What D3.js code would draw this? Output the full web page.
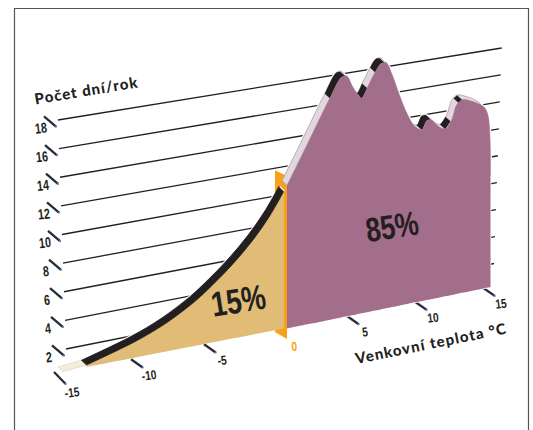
<!DOCTYPE html>
<html><head><meta charset="utf-8">
<script src="https://cdn.jsdelivr.net/npm/d3@7"></script>
<style>html,body{margin:0;padding:0;background:#fff}svg{display:block}</style></head>
<body><svg id="c" width="533" height="430"></svg>
<script>
const dayTicks = [2,4,6,8,10,12,14,16,18];
const tempTicks = [-15,-10,-5,5,10,15];
const tanTemps = [-15,-13.4,-12,-10,-8,-6,-4.8,-3.44,-2.08,-0.95,0];
const tanDays  = [0,0.15,0.57,1.22,2.1,3.33,4.3,5.55,7.04,8.58,10.2];
const purpleTemps = [0,1.5,3.2,4,4.4,4.8,5.1,5.5,5.9,6.4,6.9,7.3,7.75,8.25,8.85,9.45,9.95,10.3,10.6,11.15,11.65,12.15,12.5,12.9,13.5,14.5,14.8,14.95,15];
const purpleDays  = [10.6,13.35,16.5,17.8,17.8,17,16.45,15.95,16.6,17.5,18.2,18.2,17.2,15.7,14.1,13,12.7,13.3,13.3,12.7,12.4,13,14,14.3,14.1,13.45,12.8,11.3,8.3];
const purpleDarkFrom = [3.15,5.3,6.5,9.85,11.6,12.65];
const purpleDarkTo   = [4.3,5.9,7.2,10.6,12.05,12.9];
const wallDays = 11.3;
const shares = ["15%","85%"];

const INK="#231f20", TAN="#e0bc77", TIP="#f6ecdc", PURPLE="#a36e8c", LILAC="#e3d7df", ORANGE="#f9a01b", BLUE="#5f83c9";
const NARROW='"Liberation Sans",Arial,sans-serif';
const TITLE='Lato,"Open Sans",sans-serif';
const svg=d3.select("#c");

const tickX=d3.scaleLinear().domain([-15,-10,-5,0,5,10,15]).range([54,131,204,276,347,415,483]);
const tickY=d3.scaleLinear().domain([-15,-10,-5,0,5,10,15]).range([372,359.3,344.3,330,316,301.7,287.7]);
const xTan=d3.scaleLinear().domain([-15,0]).range([63,284]);
const xPur=d3.scaleLinear().domain([0,15]).range([287,490.5]);
const base=d3.scaleLinear().domain([-15,0,15]).range([371.5,328.5,287]);
const height=d3.scaleLinear().domain([0,18]).range([0,243]);
const gLX=d3.scaleLinear().domain([2,18]).range([66,58]);
const gLY=d3.scaleLinear().domain([2,18]).range([349,120]);
const gRX=d3.scaleLinear().domain([2,18]).range([494,501.7]);
const gRY=d3.scaleLinear().domain([2,18]).range([263.5,48]);

// frame
svg.append("path").attr("d","M14.5,431V8.5H528.5V431").attr("fill","none").attr("stroke","#555").attr("stroke-width",1.2);

// grid
svg.append("g").selectAll("line").data(dayTicks).join("line")
 .attr("x1",gLX).attr("y1",gLY).attr("x2",gRX).attr("y2",gRY)
 .attr("stroke",INK).attr("stroke-width",1.3);

function narrow(x,y,rot,sx,size,txt,fill){
  svg.append("text").attr("transform",`translate(${x},${y}) rotate(${rot}) scale(${sx},1)`)
   .attr("text-anchor","middle").attr("dominant-baseline","central")
   .attr("font-family",NARROW).attr("font-weight",700).attr("font-size",size).attr("fill",fill).text(txt);
}
function tick(g,x1,y1,x2,y2){
  g.append("line").attr("x1",x1).attr("y1",y1).attr("x2",x2).attr("y2",y2).attr("stroke","#2b2b38").attr("stroke-width",2.3);
  g.append("circle").attr("cx",x2).attr("cy",y2).attr("r",1.1).attr("fill",BLUE);
}
dayTicks.forEach(v=>{
  const g=svg.append("g");
  tick(g,gLX(v)-14,gLY(v)-3.6,gLX(v)-2,gLY(v)+6.7);
  narrow(gLX(v)-17,gLY(v)+8,-6,0.74,14.5,v,INK);
});
tempTicks.forEach(t=>{
  const g=svg.append("g");
  const dy=t===-15?12:8.2;
  tick(g,tickX(t),tickY(t),tickX(t)+11.7,tickY(t)+dy);
  narrow(tickX(t)+18,tickY(t)+(t===-15?20:15.5),-7,0.78,13,t,INK);
});
narrow(294.3,345.7,-4,0.78,13,0,ORANGE);

const DX=-5, DY=-4.6;
const tanPts=tanTemps.map((t,i)=>({t,v:tanDays[i]}));
const purPts=purpleTemps.map((t,i)=>({t,v:purpleDays[i]}));
function slice(pts,a,b){
  const f=d3.scaleLinear().domain(pts.map(d=>d.t)).range(pts.map(d=>d.v));
  return [{t:a,v:f(a)},...pts.filter(d=>d.t>a&&d.t<b),{t:b,v:f(b)}];
}
const curve=d3.curveCatmullRom.alpha(0.5);
const bandGen=x=>d3.area().curve(curve)
  .x0(d=>x(d.t)).y0(d=>base(d.t)-height(d.v))
  .x1(d=>x(d.t)+DX).y1(d=>base(d.t)-height(d.v)+DY);
const areaGen=x=>d3.area().curve(curve).x(d=>x(d.t)).y0(d=>base(d.t)).y1(d=>base(d.t)-height(d.v));

// white halo behind shapes
const tanBand=bandGen(xTan), purBand=bandGen(xPur);
svg.append("path").attr("d",tanBand(tanPts)).attr("fill","#fff").attr("stroke","#fff").attr("stroke-width",3);
svg.append("path").attr("d",purBand(purPts)).attr("fill","#fff").attr("stroke","#fff").attr("stroke-width",3);
svg.append("path").attr("d",areaGen(xPur)(purPts)).attr("fill","#fff").attr("stroke","#fff").attr("stroke-width",1.5);

// orange wall
const wx=xPur(0), wb=base(0), wt=base(0)-height(wallDays);
svg.append("path").attr("d",d3.line()([[wx,wb+10.5],[wx,wt],[wx-12,wt-5.7],[wx-12,wb+3.5]])+"Z").attr("fill",ORANGE);

// tan
svg.append("path").attr("d",areaGen(xTan)(tanPts.slice(1))).attr("fill",TAN);
svg.append("path").attr("d",tanBand(slice(tanPts,-15,-13.4))).attr("fill",TIP).attr("stroke","#cdbb9c").attr("stroke-width",0.4);
svg.append("path").attr("d",tanBand(slice(tanPts,-13.4,0))).attr("fill",INK).attr("stroke",INK).attr("stroke-width",0.9);
const tanEnd=base(0)-height(tanDays[tanDays.length-1]);
svg.append("line").attr("x1",xTan(0)+0.6).attr("y1",tanEnd+0.4).attr("x2",xTan(0)+DX+0.6).attr("y2",tanEnd+DY+0.4).attr("stroke","#f4efe6").attr("stroke-width",1.4);

// purple
svg.append("path").attr("d",purBand(purPts)).attr("fill",LILAC).attr("stroke","#a8929f").attr("stroke-width",0.7);
purpleDarkFrom.forEach((a,i)=>{
  svg.append("path").attr("d",purBand(slice(purPts,a,purpleDarkTo[i]))).attr("fill",INK);
});
svg.append("path").attr("d",areaGen(xPur)(purPts)).attr("fill",PURPLE);

// texts
narrow(238.5,301,-9,0.78,35,shares[0],INK);
narrow(392,226,-9,0.78,34,shares[1],INK);
function title(txt,x,y,rot,size,ls){
  svg.append("text").attr("transform",`translate(${x},${y}) rotate(${rot})`)
   .attr("font-family",TITLE).attr("font-weight",900).attr("font-size",size).attr("letter-spacing",ls).attr("fill",INK).text(txt);
}
title("Počet dní/rok",35.5,104.5,-9.5,15,1);
title("Venkovní teplota °C",356.5,364,-11.5,15,1.1);
</script></body></html>
